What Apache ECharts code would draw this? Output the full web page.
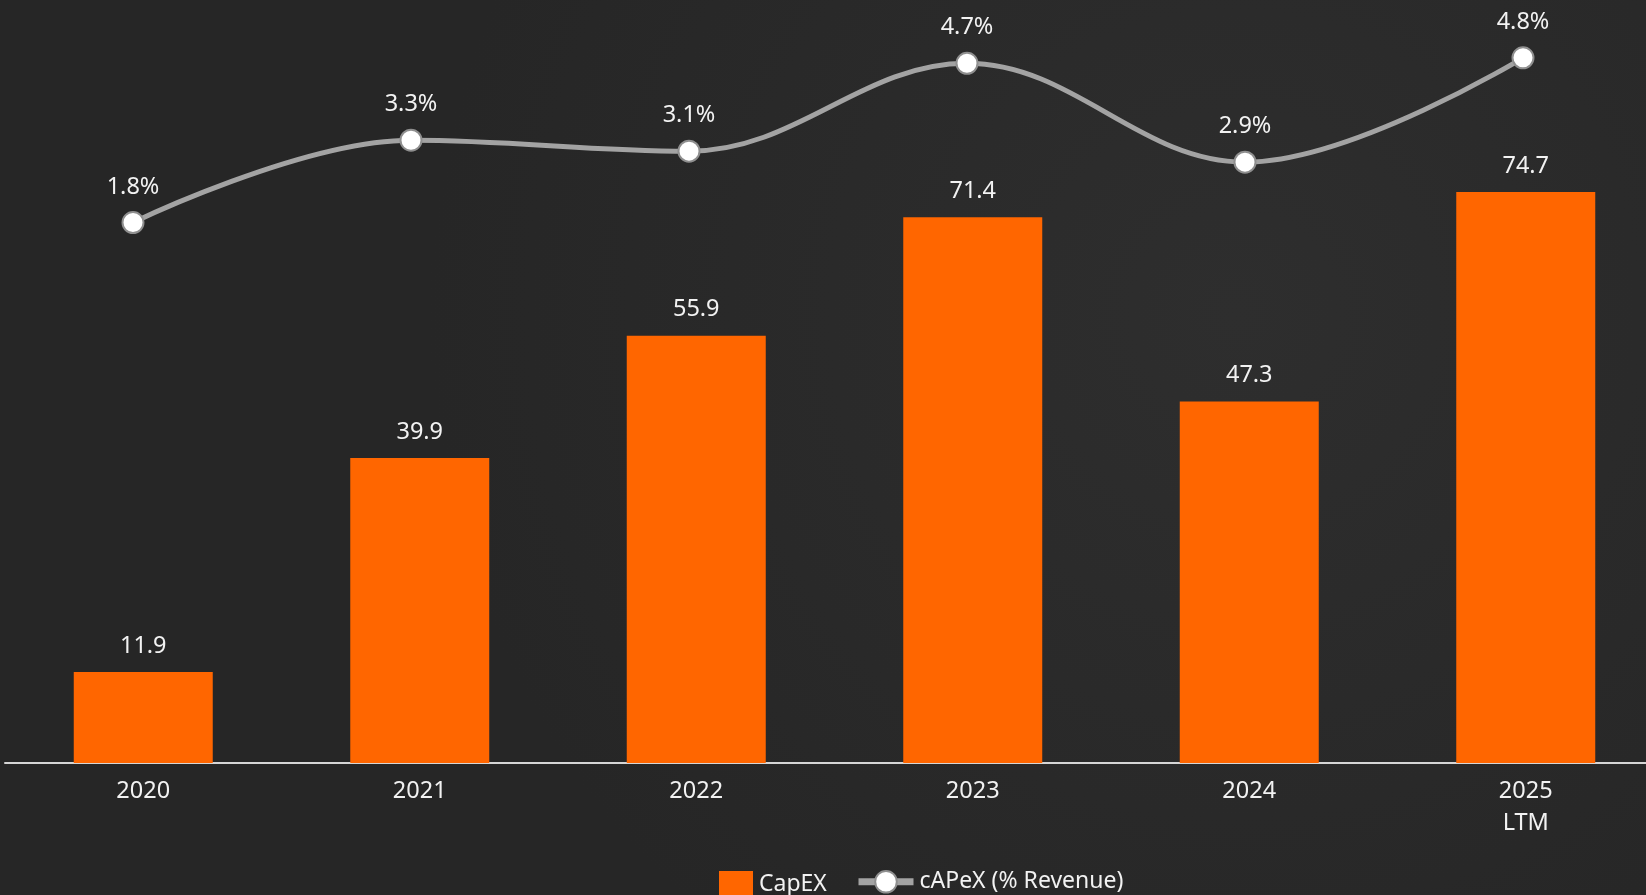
<!DOCTYPE html>
<html>
<head>
<meta charset="utf-8">
<script src="https://cdn.jsdelivr.net/npm/echarts@6/dist/echarts.min.js"></script>
<style>
html,body{margin:0;padding:0;background:#2a2a2a;}
#c{width:1646px;height:895px;}
</style>
</head>
<body>
<div id="c"></div>
<script>
const categories = ['2020', '2021', '2022', '2023', '2024', '2025\nLTM'];
const capexValues = [11.9, 39.9, 55.9, 71.4, 47.3, 74.7];
const capexPctValues = [1.8, 3.3, 3.1, 4.7, 2.9, 4.8];
const seriesNames = ['CapEX', 'cAPeX (% Revenue)'];

const FONT = '"Noto Sans", "Open Sans", Arial, sans-serif';
const chart = echarts.init(document.getElementById('c'), null, {renderer: 'canvas'});
chart.setOption({
  backgroundColor: {
    type: 'radial', x: 0.75, y: 0.35, r: 0.9,
    colorStops: [{offset: 0, color: '#2e2e2e'}, {offset: 1, color: '#262626'}]
  },
  animation: false,
  grid: [
    {left: 5, top: 151.5, width: 1659, height: 611.5, outerBoundsMode: 'none', containLabel: false},
    {left: -6, top: 46.8, width: 1668, height: 274.6, outerBoundsMode: 'none', containLabel: false}
  ],
  xAxis: [
    {
      type: 'category', gridIndex: 0, data: categories,
      axisLine: {lineStyle: {color: '#d6d6d6', width: 2}},
      axisTick: {show: false},
      axisLabel: {color: '#f2f2f2', fontSize: 23.5, fontFamily: FONT, margin: 12, lineHeight: 32}
    },
    {
      type: 'category', gridIndex: 1, data: categories, show: false
    }
  ],
  yAxis: [
    {type: 'value', gridIndex: 0, min: 0, max: 80, show: false, splitLine: {show: false}},
    {type: 'value', gridIndex: 1, min: 0, max: 5, show: false, splitLine: {show: false}}
  ],
  legend: [
    {
      data: [{name: seriesNames[0], icon: 'rect'}], left: 714, top: 866, itemWidth: 34, itemHeight: 26,
      textStyle: {color: '#f2f2f2', fontSize: 23, fontFamily: FONT, padding: [0, 0, 0, 1]}
    },
    {
      data: [seriesNames[1]], left: 850, top: 865, itemWidth: 55, itemHeight: 27,
      lineStyle: {width: 7, color: '#a3a3a3'},
      textStyle: {color: '#f2f2f2', fontSize: 23, fontFamily: FONT, padding: [0, 0, 0, 1]}
    }
  ],
  series: [
    {
      name: seriesNames[0], type: 'bar', xAxisIndex: 0, yAxisIndex: 0,
      data: capexValues, barWidth: 139,
      itemStyle: {color: '#ff6600'},
      label: {show: true, position: 'top', distance: 14, color: '#f2f2f2', fontSize: 23.5, fontFamily: FONT,
        formatter: p => p.value.toFixed(1)}
    },
    {
      name: seriesNames[1], type: 'line', xAxisIndex: 1, yAxisIndex: 1,
      data: capexPctValues, smooth: 0.38,
      symbol: 'circle', symbolSize: 21,
      lineStyle: {color: '#a3a3a3', width: 5},
      itemStyle: {color: '#ffffff', borderColor: '#8f8f8f', borderWidth: 2},
      label: {show: true, position: 'top', distance: 12, color: '#f2f2f2', fontSize: 23.5, fontFamily: FONT,
        formatter: p => p.value.toFixed(1) + '%'},
      z: 5
    }
  ]
});
</script>
</body>
</html>
